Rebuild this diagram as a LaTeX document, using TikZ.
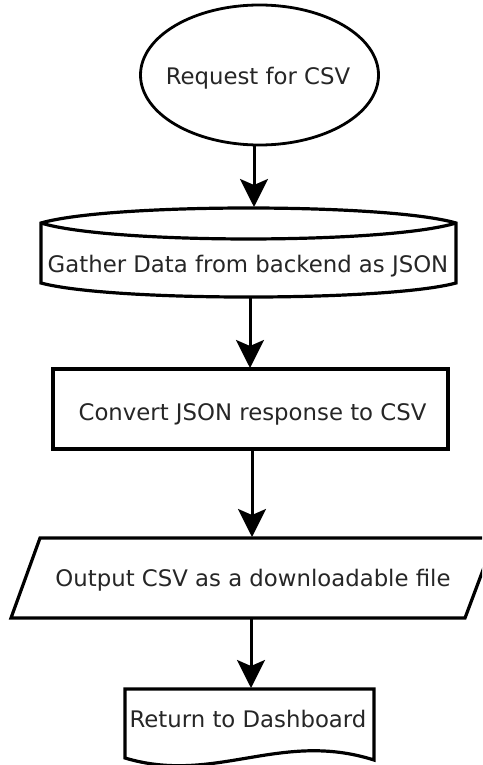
\documentclass[tikz,border=0pt]{standalone}
\usepackage{fontspec}
\setmainfont{DejaVu Sans}
\usetikzlibrary{arrows.meta}
\begin{document}
\begin{tikzpicture}[x=1pt,y=-1pt,
  outline/.style={draw=black,line width=3.2pt,line join=miter,fill=white},
  flow/.style={draw=black,line width=3pt,-{Stealth[length=28pt,width=28pt,inset=6pt]}},
  txt/.style={anchor=base,inner sep=0pt,font=\fontsize{22.8}{27}\selectfont,text=black!85}]
\useasboundingbox (0,0) rectangle (482,765);
\clip (0,0) rectangle (482,765);

% start: terminator
\draw[outline,line width=2.8pt] (259.5,75) ellipse [x radius=119, y radius=70];
% stored data: lens-shaped top, curved bottom
\draw[outline] (41,223) .. controls (110,203) and (387,203) .. (456,223)
  -- (456,283) .. controls (387,301.7) and (110,301.7) .. (41,283) -- cycle;
\draw[outline,fill=none] (41,223) .. controls (110,244.3) and (387,244.3) .. (456,223);
% process
\draw[outline] (53,369) rectangle (448,449);
% output: parallelogram
\draw[outline] (40,538) -- (495,538) -- (465,618) -- (11,618) -- cycle;
% document with wavy bottom
\draw[outline] (125,689) -- (374,689) -- (374,760)
  .. controls (280,730) and (215,785) .. (125,758) -- cycle;

% labels
\node[txt] (req) at (258,85) {Request for CSV};
\node[txt] (gather) at (248,272) {Gather Data from backend as JSON};
\node[txt] (conv) at (252.5,420) {Convert JSON response to CSV};
\node[txt] (out) at (253,586) {Output CSV as a downloadable file};
\node[txt] (ret) at (248,727) {Return to Dashboard};

% connector ends on the outlines
\coordinate (req-s) at (254,145);
\coordinate (gather-n) at (254,207);
\coordinate (gather-s) at (250,297);
\coordinate (conv-n) at (250,368);
\coordinate (conv-s) at (252,449);
\coordinate (out-n) at (252,537);
\coordinate (out-s) at (251,618);
\coordinate (ret-n) at (251,688);

\draw[flow] (req-s) -- (gather-n);
\draw[flow] (gather-s) -- (conv-n);
\draw[flow] (conv-s) -- (out-n);
\draw[flow] (out-s) -- (ret-n);
\end{tikzpicture}
\end{document}
